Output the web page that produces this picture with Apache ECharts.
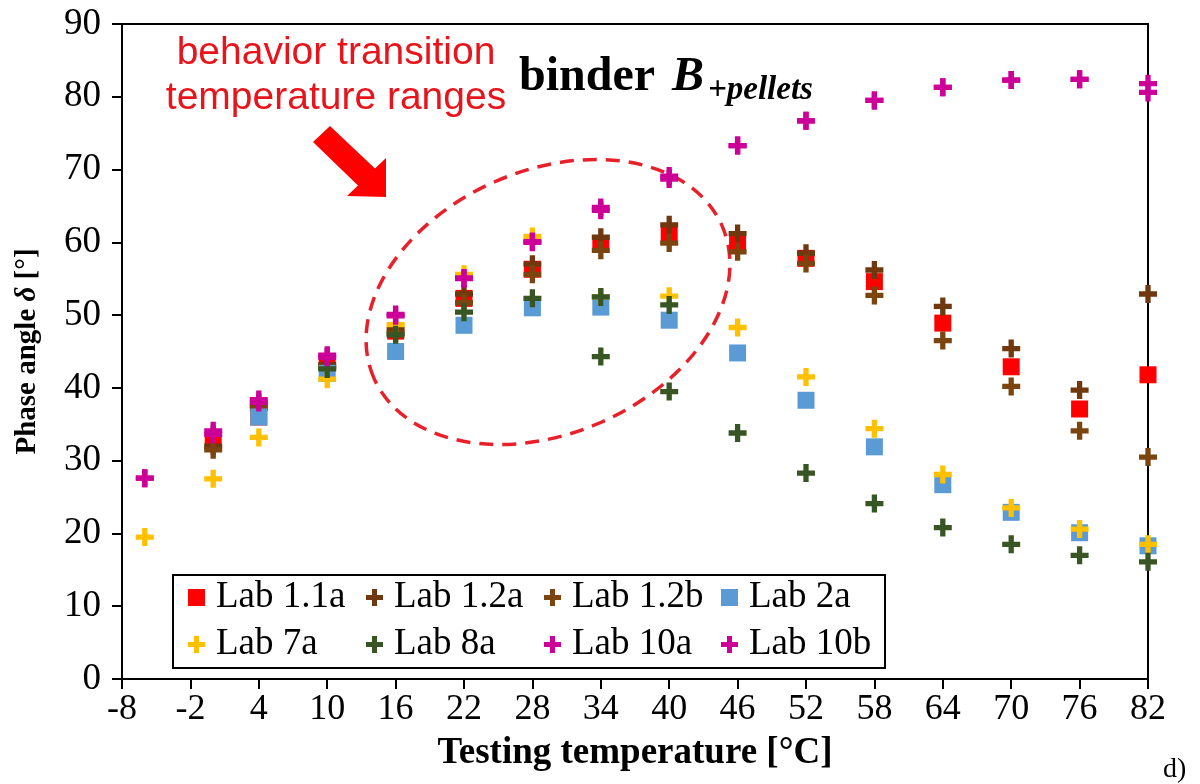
<!DOCTYPE html>
<html>
<head>
<meta charset="utf-8">
<script src="https://cdn.jsdelivr.net/npm/echarts@6/dist/echarts.min.js"></script>
<style>
html,body{margin:0;padding:0;background:#fff;}
#chart{width:1200px;height:784px;}
</style>
</head>
<body>
<div id="chart"></div>
<script>
// ---- data ----
const temps = [-6, 0, 4, 10, 16, 22, 28, 34, 40, 46, 52, 58, 64, 70, 76, 82];
const xTicks = [-8, -2, 4, 10, 16, 22, 28, 34, 40, 46, 52, 58, 64, 70, 76, 82];
const yTicks = [0, 10, 20, 30, 40, 50, 60, 70, 80, 90];
const lab11a = [null, 32.6, 36.0, 43.6, 47.8, 52.3, 56.3, 59.8, 61.0, 59.9, 57.8, 54.6, 48.9, 42.9, 37.1, 41.8];
const lab12a = [null, 32.0, 37.6, 43.2, 48.0, 52.9, 57.0, 60.7, 62.4, 61.2, 58.5, 56.2, 51.2, 45.4, 39.7, 52.9];
const lab12b = [null, 31.5, 37.2, 42.8, 47.5, 51.7, 55.6, 58.9, 59.9, 58.7, 57.1, 52.7, 46.5, 40.2, 34.1, 30.5];
const lab2a  = [null, null, 36.0, 42.0, 45.0, 48.6, 51.0, 51.1, 49.3, 44.8, 38.3, 31.9, 26.7, 22.9, 20.1, 18.3];
const lab7a  = [19.5, 27.5, 33.2, 41.2, 48.7, 55.6, 60.8, 52.5, 52.6, 48.3, 41.5, 34.4, 28.1, 23.5, 20.6, 18.5];
const lab8a  = [null, null, null, 42.6, 47.3, 50.4, 52.3, 52.5, 51.4, null, null, null, null, null, null, null];
const lab8aLow = [null, null, null, null, null, null, null, 44.3, 39.5, 33.8, 28.3, 24.1, 20.8, 18.5, 17.0, 16.1];
const lab10a = [27.6, 34.1, 38.4, 44.5, 50.1, 55.1, 60.1, 64.8, 69.1, 73.3, 76.7, 79.5, 81.3, 82.3, 82.4, 81.8];
const lab10b = [27.6, 33.6, 38.0, 44.2, 49.9, 55.0, 60.0, 64.4, 68.7, 73.3, 76.7, 79.5, 81.3, 82.3, 82.4, 80.6];
const seriesNames = ['Lab 1.1a', 'Lab 1.2a', 'Lab 1.2b', 'Lab 2a', 'Lab 7a', 'Lab 8a', 'Lab 10a', 'Lab 10b'];

// ---- styling ----
const PLUS = 'path://M6,0H11V6H17V11H11V17H6V11H0V6H6Z';
const serif = '"Liberation Serif", "Times New Roman", serif';
function pairs(...arrs) {
  const out = [];
  arrs.forEach(a => a.forEach((v, i) => { if (v !== null) out.push([temps[i], v]); }));
  return out;
}
const defs = [
  { name: seriesNames[0], data: pairs(lab11a), color: '#FF0000', square: true },
  { name: seriesNames[1], data: pairs(lab12a), color: '#70380E' },
  { name: seriesNames[2], data: pairs(lab12b), color: '#7C4510' },
  { name: seriesNames[3], data: pairs(lab2a), color: '#5B9BD5', square: true },
  { name: seriesNames[4], data: pairs(lab7a), color: '#FFC000' },
  { name: seriesNames[5], data: pairs(lab8a, lab8aLow), color: '#375623' },
  { name: seriesNames[6], data: pairs(lab10a), color: '#CC0099' },
  { name: seriesNames[7], data: pairs(lab10b), color: '#CC0099' }
];
const series = defs.map((d, i) => ({
  type: 'scatter',
  name: d.name,
  data: d.data,
  symbol: d.square ? 'rect' : PLUS,
  symbolSize: d.square ? 17 : 18,
  itemStyle: { color: d.color, opacity: 1 },
  z: 2 + i * 0.01,
  emphasis: { disabled: true },
  silent: true
}));
const iconOf = n => (defs.find(d => d.name === n).square ? 'rect' : PLUS);
const legendCols = [
  { names: ['Lab 1.1a', 'Lab 7a'], left: 188 },
  { names: ['Lab 1.2a', 'Lab 8a'], left: 366 },
  { names: ['Lab 1.2b', 'Lab 10a'], left: 544 },
  { names: ['Lab 2a', 'Lab 10b'], left: 721 }
];
const legends = legendCols.map(c => ({
  orient: 'vertical',
  left: c.left,
  top: 579,
  itemWidth: 17,
  itemHeight: 17,
  itemGap: 10,
  padding: 0,
  selectedMode: false,
  data: c.names.map(n => ({ name: n, icon: iconOf(n) })),
  textStyle: { fontFamily: serif, fontSize: 37, color: '#000', lineHeight: 37, padding: [0, 0, 0, 6] }
}));

const chart = echarts.init(document.getElementById('chart'), null, { renderer: 'canvas' });
chart.setOption({
  animation: false,
  backgroundColor: '#fff',
  grid: { left: 122, right: 52, top: 24, bottom: 105, show: true, borderColor: '#000', borderWidth: 2, backgroundColor: 'transparent' },
  xAxis: {
    type: 'value', min: xTicks[0], max: xTicks[xTicks.length - 1], interval: 6,
    axisLine: { onZero: false, lineStyle: { color: '#000', width: 2 } },
    axisTick: { show: true, inside: false, length: 10, lineStyle: { color: '#000', width: 2 } },
    splitLine: { show: false },
    axisLabel: { fontFamily: serif, fontSize: 36, color: '#000', margin: 13 },
    name: 'Testing temperature [°C]', nameLocation: 'middle', nameGap: 56,
    nameTextStyle: { fontFamily: serif, fontSize: 37, fontWeight: 'bold', color: '#000' }
  },
  yAxis: {
    type: 'value', min: yTicks[0], max: yTicks[yTicks.length - 1], interval: 10,
    axisLine: { show: true, onZero: false, lineStyle: { color: '#000', width: 2 } },
    axisTick: { show: true, inside: false, length: 10, lineStyle: { color: '#000', width: 2 } },
    splitLine: { show: false },
    axisLabel: { fontFamily: serif, fontSize: 37, color: '#000', margin: 21 },
    name: '{b|Phase angle }{i|δ}{b| [°]}', nameLocation: 'middle', nameGap: 80,
    nameTextStyle: {
      rich: {
        b: { fontFamily: serif, fontSize: 29, fontWeight: 'bold', color: '#000' },
        i: { fontFamily: serif, fontSize: 29, fontWeight: 'bold', fontStyle: 'italic', color: '#000' }
      }
    }
  },
  legend: legends,
  series: series,
  graphic: [
    { type: 'rect', shape: { x: 173, y: 575, width: 712, height: 93 }, style: { fill: '#fff', stroke: '#000', lineWidth: 2 }, z: 3 },
    { type: 'text', x: 336, y: 73, style: { text: 'behavior transition', fontFamily: '"Liberation Sans", Arial, sans-serif', fontSize: 39, fill: '#E8141C', align: 'center', verticalAlign: 'bottom' }, z: 5 },
    { type: 'text', x: 336, y: 118, style: { text: 'temperature ranges', fontFamily: '"Liberation Sans", Arial, sans-serif', fontSize: 39, fill: '#E8141C', align: 'center', verticalAlign: 'bottom' }, z: 5 },
    { type: 'polygon', shape: { points: [[330, 126], [375, 168.5], [386, 158], [386, 197], [347, 196], [358, 185.5], [313, 142]] }, style: { fill: '#FF0000' }, z: 5 },
    { type: 'ellipse', x: 548, y: 302, rotation: 0.412, shape: { cx: 0, cy: 0, rx: 190, ry: 131.5 }, style: { fill: 'none', stroke: '#E8202A', lineWidth: 3.5, lineDash: [14, 9] }, z: 1 },
    { type: 'text', x: 519, y: 102, style: { text: 'binder', fontFamily: serif, fontSize: 48, fontWeight: 'bold', fill: '#000', align: 'left', verticalAlign: 'bottom' }, z: 5 },
    { type: 'text', x: 672, y: 102, style: { text: 'B', fontFamily: serif, fontSize: 48, fontWeight: 'bold', fontStyle: 'italic', fill: '#000', align: 'left', verticalAlign: 'bottom' }, z: 5 },
    { type: 'text', x: 708, y: 107, style: { text: '+pellets', fontFamily: serif, fontSize: 33, fontWeight: 'bold', fontStyle: 'italic', fill: '#000', align: 'left', verticalAlign: 'bottom' }, z: 5 },
    { type: 'text', x: 1163, y: 784, style: { text: 'd)', fontFamily: serif, fontSize: 28, fill: '#000', align: 'left', verticalAlign: 'bottom' }, z: 5 }
  ]
});
</script>
</body>
</html>
